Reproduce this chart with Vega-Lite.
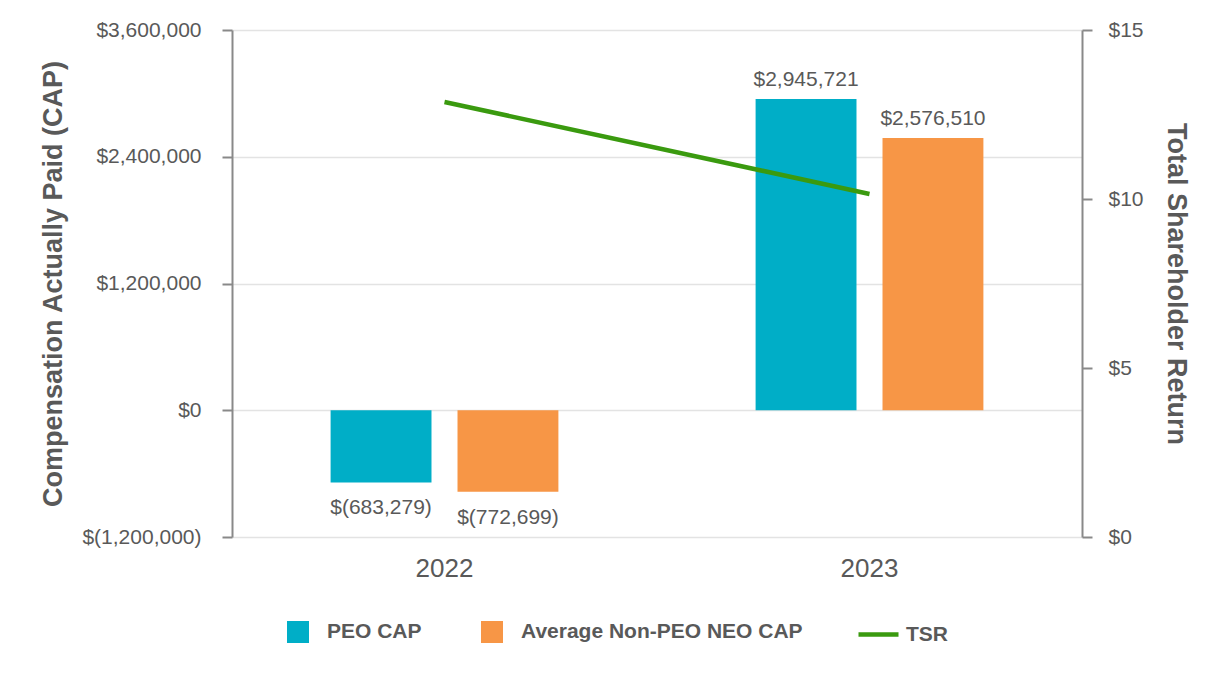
{
  "$schema": "https://vega.github.io/schema/vega-lite/v6.json",
  "width": 850,
  "height": 507,
  "autosize": {"type": "none"},
  "padding": {"left": 232, "top": 30, "right": 144, "bottom": 143},
  "background": "white",
  "config": {
    "font": "Liberation Sans",
    "view": {"stroke": null},
    "axis": {"labelColor": "#595959", "titleColor": "#595959"}
  },
  "datasets": {
    "cap": [
      {"year": "2022", "series": "PEO CAP", "value": -683279, "label": "$(683,279)"},
      {"year": "2022", "series": "Average Non-PEO NEO CAP", "value": -772699, "label": "$(772,699)"},
      {"year": "2023", "series": "PEO CAP", "value": 2945721, "label": "$2,945,721"},
      {"year": "2023", "series": "Average Non-PEO NEO CAP", "value": 2576510, "label": "$2,576,510"}
    ],
    "tsr": [
      {"year": "2022", "series": "TSR", "tsr": 12.87},
      {"year": "2023", "series": "TSR", "tsr": 10.15}
    ]
  },
  "layer": [
    {
      "data": {"name": "cap"},
      "encoding": {
        "x": {
          "field": "year",
          "type": "nominal",
          "scale": {"paddingInner": 0.464, "paddingOuter": 0.232},
          "axis": {
            "title": null,
            "labelAngle": 0,
            "labelFontSize": 26,
            "labelPadding": 18,
            "domain": false,
            "ticks": false,
            "grid": false
          }
        },
        "xOffset": {
          "field": "series",
          "type": "nominal",
          "scale": {"domain": ["PEO CAP", "Average Non-PEO NEO CAP"], "paddingInner": 0.205, "paddingOuter": 0}
        },
        "y": {
          "field": "value",
          "type": "quantitative",
          "scale": {"domain": [-1200000, 3600000], "nice": false, "zero": true},
          "axis": {
            "orient": "left",
            "values": [-1200000, 0, 1200000, 2400000, 3600000],
            "labelExpr": "datum.value < 0 ? '$(' + format(-datum.value, ',') + ')' : '$' + format(datum.value, ',')",
            "labelFontSize": 21,
            "labelPadding": 21,
            "tickSize": 10,
            "tickColor": "#898989",
            "tickWidth": 2,
            "domainColor": "#898989",
            "domainWidth": 2,
            "grid": true,
            "gridColor": "#e3e3e3",
            "gridWidth": 1.5,
            "title": "Compensation Actually Paid (CAP)",
            "titleFontSize": 27,
            "titleFontWeight": "bold",
            "titlePadding": 14
          }
        }
      },
      "layer": [
        {
          "mark": {"type": "bar"},
          "encoding": {
            "fill": {
              "field": "series",
              "type": "nominal",
              "scale": {"domain": ["PEO CAP", "Average Non-PEO NEO CAP"], "range": ["#00AEC7", "#F79646"]},
              "legend": {
                "orient": "none",
                "legendX": 55,
                "legendY": 591,
                "direction": "horizontal",
                "title": null,
                "symbolType": "square",
                "symbolSize": 484,
                "symbolStrokeWidth": 0,
                "symbolOpacity": 1,
                "labelFontSize": 21,
                "labelFontWeight": "bold",
                "labelColor": "#595959",
                "labelOffset": 18,
                "labelLimit": 500,
                "columnPadding": 59,
                "padding": 0
              }
            }
          }
        },
        {
          "transform": [{"filter": "datum.value >= 0"}],
          "mark": {"type": "text", "baseline": "bottom", "dy": -9, "fontSize": 21, "color": "#595959"},
          "encoding": {"text": {"field": "label", "type": "nominal"}}
        },
        {
          "transform": [{"filter": "datum.value < 0"}],
          "mark": {"type": "text", "baseline": "top", "dy": 15, "fontSize": 21, "color": "#595959"},
          "encoding": {"text": {"field": "label", "type": "nominal"}}
        }
      ]
    },
    {
      "data": {"name": "tsr"},
      "mark": {"type": "line", "strokeWidth": 4.5},
      "encoding": {
        "x": {"field": "year", "type": "nominal"},
        "y": {
          "field": "tsr",
          "type": "quantitative",
          "scale": {"domain": [0, 15], "nice": false},
          "axis": {
            "orient": "right",
            "values": [0, 5, 10, 15],
            "labelExpr": "'$' + datum.value",
            "labelFontSize": 21,
            "labelPadding": 16,
            "tickSize": 10,
            "tickColor": "#898989",
            "tickWidth": 2,
            "domainColor": "#898989",
            "domainWidth": 2,
            "grid": false,
            "title": "Total Shareholder Return",
            "titleFontSize": 27,
            "titleFontWeight": "bold",
            "titlePadding": 18
          }
        },
        "stroke": {
          "field": "series",
          "type": "nominal",
          "scale": {"domain": ["TSR"], "range": ["#3A9A0F"]},
          "legend": {
            "orient": "none",
            "legendX": 624,
            "legendY": 582,
            "title": null,
            "symbolType": "stroke",
            "symbolSize": 1600,
            "symbolStrokeWidth": 4.5,
            "labelFontSize": 21,
            "labelFontWeight": "bold",
            "labelColor": "#595959",
            "labelOffset": 5,
            "padding": 0
          }
        }
      }
    }
  ],
  "resolve": {"scale": {"y": "independent"}}
}
